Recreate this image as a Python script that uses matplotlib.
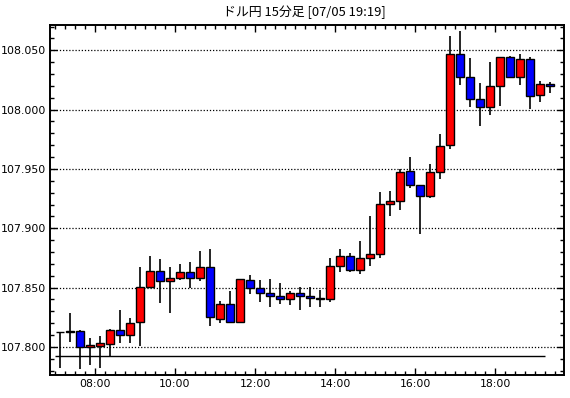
import matplotlib
matplotlib.use("Agg")
import matplotlib.pyplot as plt
import matplotlib.dates as mdates
import pandas as pd

# USD/JPY 15-minute candles, 07/05 07:00 - 19:15
START = "2019-07-05 07:00"
OPEN = [107.8126, 107.8125, 107.8132, 107.7997, 107.8011, 107.8028, 107.8141, 107.8099, 107.8208, 107.8503,
        107.8638, 107.8554, 107.8579, 107.8629, 107.8579, 107.8672, 107.8238, 107.8360, 107.8208, 107.8562,
        107.8495, 107.8453, 107.8427, 107.8402, 107.8453, 107.8427, 107.8410, 107.8402, 107.8680, 107.8764,
        107.8646, 107.8747, 107.8781, 107.9202, 107.9228, 107.9480, 107.9362, 107.9270, 107.9472, 107.9700,
        108.0466, 108.0278, 108.0087, 108.0020, 108.0197, 108.0441, 108.0278, 108.0424, 108.0121, 108.0214]
HIGH = [107.8126, 107.8287, 107.8141, 107.8076, 107.8093, 107.8149, 107.8312, 107.8247, 107.8672, 107.8764,
        107.8739, 107.8672, 107.8697, 107.8714, 107.8806, 107.8823, 107.8390, 107.8472, 107.8570, 107.8607,
        107.8565, 107.8570, 107.8537, 107.8472, 107.8508, 107.8503, 107.8480, 107.8747, 107.8826, 107.8792,
        107.8891, 107.9104, 107.9306, 107.9314, 107.9497, 107.9601, 107.9362, 107.9542, 107.9797, 108.0620,
        108.0663, 108.0435, 108.0222, 108.0401, 108.0446, 108.0449, 108.0466, 108.0441, 108.0239, 108.0230]
LOW = [107.7826, 107.8045, 107.7817, 107.7851, 107.7826, 107.7924, 107.8036, 107.8036, 107.8011, 107.8503,
       107.8368, 107.8289, 107.8562, 107.8495, 107.8554, 107.8179, 107.8200, 107.8208, 107.8208, 107.8444,
       107.8377, 107.8335, 107.8362, 107.8351, 107.8312, 107.8335, 107.8335, 107.8377, 107.8629, 107.8629,
       107.8613, 107.8680, 107.8747, 107.9106, 107.9157, 107.9337, 107.8955, 107.9253, 107.9413, 107.9671,
       108.0208, 108.0025, 107.9865, 107.9957, 108.0033, 108.0269, 108.0210, 108.0003, 108.0067, 108.0143]
CLOSE = [107.8126, 107.8135, 107.7997, 107.8014, 107.8031, 107.8141, 107.8099, 107.8200, 107.8503, 107.8638,
         107.8554, 107.8579, 107.8629, 107.8579, 107.8672, 107.8250, 107.8360, 107.8208, 107.8570, 107.8495,
         107.8453, 107.8427, 107.8402, 107.8453, 107.8427, 107.8410, 107.8405, 107.8680, 107.8764, 107.8646,
         107.8747, 107.8781, 107.9202, 107.9228, 107.9472, 107.9362, 107.9270, 107.9472, 107.9691, 108.0466,
         108.0278, 108.0087, 108.0020, 108.0197, 108.0441, 108.0278, 108.0424, 108.0112, 108.0214, 108.0197]
REF_LINE = 107.7924
TITLE = "ドル円 15分足 [07/05 19:19]"

plt.rcParams["font.family"] = ["Noto Sans CJK JP", "DejaVu Sans"]

times = pd.date_range(START, periods=len(OPEN), freq="15min")
centers = mdates.date2num(times + pd.Timedelta(minutes=7.5))
width = 12 / (24 * 60)

fig = plt.figure(figsize=(5.7, 3.98), dpi=100)
ax = fig.add_axes([49.5 / 570, 1 - 374.5 / 398, (564 - 49.5) / 570, (374.5 - 25) / 398])

ax.vlines(centers, LOW, HIGH, color="black", lw=1.2, zorder=2)
bottoms = [min(o, c) for o, c in zip(OPEN, CLOSE)]
heights = [abs(c - o) for o, c in zip(OPEN, CLOSE)]
colors = ["#ff0000" if c >= o else "#0000ff" for o, c in zip(OPEN, CLOSE)]
ax.bar(centers, heights, bottom=bottoms, width=width, color=colors,
       edgecolor="black", linewidth=1.0, zorder=3)

ax.hlines(REF_LINE, mdates.date2num(times[0]), mdates.date2num(times[-1]),
          color="black", lw=1.0, zorder=2)

for v in [107.80, 107.85, 107.90, 107.95, 108.00, 108.05]:
    ax.axhline(v, color="black", lw=0.9, ls=(0, (1, 1.5)), zorder=1)

x0 = mdates.date2num(pd.Timestamp("2019-07-05 06:51:45"))
x1 = mdates.date2num(pd.Timestamp("2019-07-05 19:43:30"))
ax.set_xlim(x0, x1)
ax.set_ylim(107.7768, 108.0713)

ax.xaxis.set_major_locator(mdates.HourLocator(byhour=range(0, 24, 2)))
ax.xaxis.set_minor_locator(mdates.MinuteLocator(byminute=[0, 15, 30, 45]))
ax.xaxis.set_major_formatter(mdates.DateFormatter("%H:%M"))
ax.set_yticks([107.80, 107.85, 107.90, 107.95, 108.00, 108.05])
ax.set_yticks([107.78 + 0.01 * k for k in range(30)], minor=True)
ax.yaxis.set_major_formatter(matplotlib.ticker.FormatStrFormatter("%.3f"))

ax.tick_params(which="both", direction="in", top=True, right=True, width=1.0, color="black")
ax.tick_params(which="major", length=5)
ax.tick_params(which="minor", length=3)
ax.tick_params(axis="x", labelsize=7.8, pad=3)
ax.tick_params(axis="y", labelsize=7.9, pad=2.5)
for lab in ax.get_xticklabels() + ax.get_yticklabels():
    lab.set_family("DejaVu Sans")

for s in ax.spines.values():
    s.set_linewidth(1.4)

fig.text(304 / 570, 1 - 12 / 398, TITLE, ha="center", va="center", fontsize=9.3)

fig.savefig("out.png", dpi=100)
